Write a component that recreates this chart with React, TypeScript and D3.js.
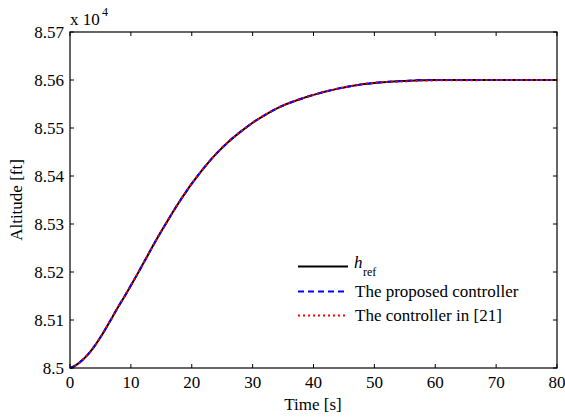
import React from "react";
import * as d3 from "d3";

const times = [0, 1, 2, 3, 4, 5, 6, 7, 8, 9, 10, 11, 12, 13, 14, 15, 16, 17, 18, 19, 20, 21, 22, 24, 26, 28, 30, 32, 34, 36, 38, 40, 42, 44, 46, 48, 50, 52, 55, 58, 60, 65, 70, 75, 80];
const hRef = [8.5, 8.5006, 8.5016, 8.5029, 8.5045, 8.5064, 8.5085, 8.5107, 8.5129, 8.515, 8.5172, 8.5194, 8.5217, 8.524, 8.5263, 8.5285, 8.5306, 8.5327, 8.5347, 8.5366, 8.5384, 8.5401, 8.5417, 8.5446, 8.5471, 8.5492, 8.5511, 8.5527, 8.5541, 8.5552, 8.5561, 8.5569, 8.5576, 8.5582, 8.5587, 8.5591, 8.5594, 8.5596, 8.5598, 8.55995, 8.56, 8.56, 8.56, 8.56, 8.56];
const proposed = [8.5, 8.5006, 8.5016, 8.5029, 8.5045, 8.5064, 8.5085, 8.5107, 8.5129, 8.515, 8.5172, 8.5194, 8.5217, 8.524, 8.5263, 8.5285, 8.5306, 8.5327, 8.5347, 8.5366, 8.5384, 8.5401, 8.5417, 8.5446, 8.5471, 8.5492, 8.5511, 8.5527, 8.5541, 8.5552, 8.5561, 8.5569, 8.5576, 8.5582, 8.5587, 8.5591, 8.5594, 8.5596, 8.5598, 8.56, 8.56, 8.56, 8.56, 8.56, 8.56];
const controller21 = [8.5, 8.5006, 8.5016, 8.5029, 8.5045, 8.5064, 8.5085, 8.5107, 8.5129, 8.515, 8.5172, 8.5194, 8.5217, 8.524, 8.5263, 8.5285, 8.5306, 8.5327, 8.5347, 8.5366, 8.5384, 8.5401, 8.5417, 8.5446, 8.5471, 8.5492, 8.5511, 8.5527, 8.5541, 8.5552, 8.5561, 8.5569, 8.5576, 8.5582, 8.5587, 8.5591, 8.5594, 8.5596, 8.5597, 8.5599, 8.55992, 8.55995, 8.56, 8.56, 8.56];

const xTicks = [0, 10, 20, 30, 40, 50, 60, 70, 80];
const yTicks = [8.5, 8.51, 8.52, 8.53, 8.54, 8.55, 8.56, 8.57];
const yTickLabels = ["8.5", "8.51", "8.52", "8.53", "8.54", "8.55", "8.56", "8.57"];

const legendLabels = ["The proposed controller", "The controller in [21]"];

export default function App() {
  const W = 565, H = 418;
  const left = 70, right = 557, top = 32, bottom = 368;
  const x = d3.scaleLinear().domain([0, 80]).range([left, right]);
  const y = d3.scaleLinear().domain([8.5, 8.57]).range([bottom, top]);
  const fs: React.CSSProperties = {
    fontFamily: '"Times New Roman", Times, "Liberation Serif", Tinos, "Noto Serif", "DejaVu Serif", serif',
  };

  const mk = (vals: number[]) =>
    d3.line<number>().x((_, i) => x(times[i])).y((d) => y(d)).curve(d3.curveMonotoneX)(vals) || "";

  const tl = 4;
  return (
    <svg width={W} height={H} style={{ position: "absolute", left: 0, top: 0, background: "#fff" }}>
      <defs>
        <clipPath id="plotclip">
          <rect x={left} y={top - 2} width={right - left} height={bottom - top + 4} />
        </clipPath>
      </defs>
      <rect x={0} y={0} width={W} height={H} fill="#fff" />
      <g clipPath="url(#plotclip)">
        <path d={mk(hRef)} fill="none" stroke="#000" strokeWidth={2} />
        <path d={mk(proposed)} fill="none" stroke="#0000ff" strokeWidth={2} strokeDasharray="6,4" />
        <path d={mk(controller21)} fill="none" stroke="#ff0000" strokeWidth={2} strokeDasharray="2,3" />
      </g>
      <rect x={left} y={top} width={right - left} height={bottom - top} fill="none" stroke="#000" strokeWidth={1.2} />
      {xTicks.map((t) => (
        <g key={"x" + t}>
          <line x1={x(t)} x2={x(t)} y1={bottom} y2={bottom - tl} stroke="#000" strokeWidth={1} />
          <line x1={x(t)} x2={x(t)} y1={top} y2={top + tl} stroke="#000" strokeWidth={1} />
          <text x={x(t)} y={388} fontSize={17} textAnchor="middle" fill="#000" style={fs}>{t}</text>
        </g>
      ))}
      {yTicks.map((v, i) => (
        <g key={"y" + i}>
          <line x1={left} x2={left + tl} y1={y(v)} y2={y(v)} stroke="#000" strokeWidth={1} />
          <line x1={right} x2={right - tl} y1={y(v)} y2={y(v)} stroke="#000" strokeWidth={1} />
          <text x={64} y={y(v) + 6} fontSize={17} textAnchor="end" fill="#000" style={fs}>{yTickLabels[i]}</text>
        </g>
      ))}
      <text x={70} y={25} fontSize={17} fill="#000" style={fs}>x 10</text>
      <text x={102} y={16} fontSize={12} fill="#000" style={fs}>4</text>
      <text x={313} y={410} fontSize={17} textAnchor="middle" fill="#000" style={fs}>Time [s]</text>
      <text transform={`translate(22,200) rotate(-90)`} fontSize={17} textAnchor="middle" fill="#000" style={fs}>Altitude [ft]</text>
      <line x1={298} x2={348} y1={266.5} y2={266.5} stroke="#000" strokeWidth={2} />
      <text x={354} y={268} fontSize={17} fill="#000" fontStyle="italic" style={fs}>h</text>
      <text x={363} y={276} fontSize={12} fill="#000" style={fs}>ref</text>
      <line x1={298} x2={348} y1={291.5} y2={291.5} stroke="#0000ff" strokeWidth={2} strokeDasharray="6,4" />
      <text x={355} y={297} fontSize={17} fill="#000" style={fs}>{legendLabels[0]}</text>
      <line x1={298} x2={348} y1={315.5} y2={315.5} stroke="#ff0000" strokeWidth={2} strokeDasharray="2,3" />
      <text x={355} y={321} fontSize={17} fill="#000" style={fs}>{legendLabels[1]}</text>
    </svg>
  );
}
